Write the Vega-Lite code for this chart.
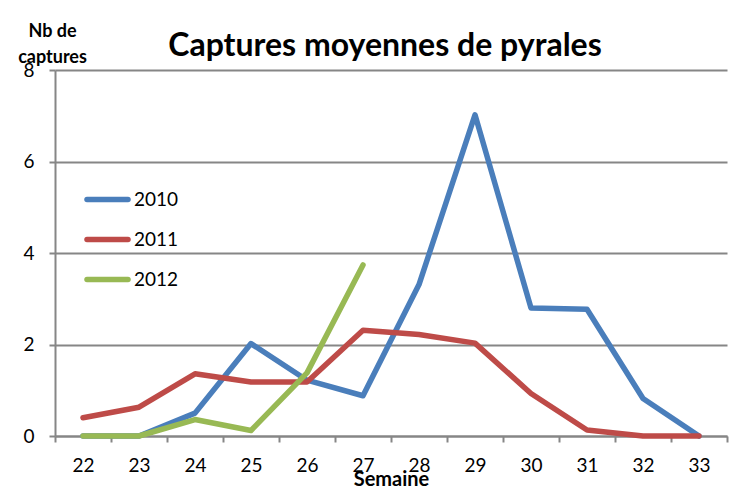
{
  "$schema": "https://vega.github.io/schema/vega-lite/v6.json",
  "width": 672,
  "height": 366,
  "autosize": {"type": "none"},
  "padding": {"left": 55, "top": 70, "right": 28, "bottom": 52},
  "background": "white",
  "title": {
    "text": "Captures moyennes de pyrales",
    "font": "Lato",
    "fontSize": 32,
    "fontWeight": "bold",
    "color": "black",
    "anchor": "middle",
    "baseline": "alphabetic",
    "offset": -66,
    "dx": -6
  },
  "data": {
    "values": [
      {"semaine": 22, "annee": "2010", "captures": 0},
      {"semaine": 23, "annee": "2010", "captures": 0},
      {"semaine": 24, "annee": "2010", "captures": 0.5},
      {"semaine": 25, "annee": "2010", "captures": 2.02},
      {"semaine": 26, "annee": "2010", "captures": 1.22},
      {"semaine": 27, "annee": "2010", "captures": 0.88},
      {"semaine": 28, "annee": "2010", "captures": 3.31},
      {"semaine": 29, "annee": "2010", "captures": 7.02},
      {"semaine": 30, "annee": "2010", "captures": 2.8},
      {"semaine": 31, "annee": "2010", "captures": 2.77},
      {"semaine": 32, "annee": "2010", "captures": 0.82},
      {"semaine": 33, "annee": "2010", "captures": 0},
      {"semaine": 22, "annee": "2011", "captures": 0.4},
      {"semaine": 23, "annee": "2011", "captures": 0.63},
      {"semaine": 24, "annee": "2011", "captures": 1.36},
      {"semaine": 25, "annee": "2011", "captures": 1.18},
      {"semaine": 26, "annee": "2011", "captures": 1.18},
      {"semaine": 27, "annee": "2011", "captures": 2.31},
      {"semaine": 28, "annee": "2011", "captures": 2.22},
      {"semaine": 29, "annee": "2011", "captures": 2.03},
      {"semaine": 30, "annee": "2011", "captures": 0.93},
      {"semaine": 31, "annee": "2011", "captures": 0.13},
      {"semaine": 32, "annee": "2011", "captures": 0},
      {"semaine": 33, "annee": "2011", "captures": 0},
      {"semaine": 22, "annee": "2012", "captures": 0},
      {"semaine": 23, "annee": "2012", "captures": 0},
      {"semaine": 24, "annee": "2012", "captures": 0.36},
      {"semaine": 25, "annee": "2012", "captures": 0.12},
      {"semaine": 26, "annee": "2012", "captures": 1.38},
      {"semaine": 27, "annee": "2012", "captures": 3.74}
    ]
  },
  "mark": {"type": "line", "strokeWidth": 5.5, "strokeCap": "round", "strokeJoin": "round"},
  "encoding": {
    "x": {
      "field": "semaine",
      "type": "ordinal",
      "scale": {"type": "band", "paddingInner": 0, "paddingOuter": 0},
      "axis": {
        "title": "Semaine",
        "titleFont": "Lato",
        "titleFontSize": 20,
        "titleFontWeight": "bold",
        "titleColor": "black",
        "titleBaseline": "alphabetic",
        "titleY": 49,
        "labelAngle": 0,
        "labelFont": "Lato",
        "labelFontSize": 19,
        "labelColor": "black",
        "labelPadding": 14,
        "tickBand": "extent",
        "tickSize": 6,
        "tickWidth": 2,
        "tickColor": "#868686",
        "domainColor": "#868686",
        "domainWidth": 2,
        "grid": false
      }
    },
    "y": {
      "field": "captures",
      "type": "quantitative",
      "scale": {"domain": [0, 8], "nice": false, "zero": true},
      "axis": {
        "title": ["Nb de", "captures"],
        "titleFont": "Lato",
        "titleFontSize": 18,
        "titleFontWeight": "bold",
        "titleColor": "black",
        "titleAngle": 0,
        "titleAlign": "center",
        "titleBaseline": "alphabetic",
        "titleLineHeight": 26,
        "titleX": -3,
        "titleY": -34,
        "values": [0, 2, 4, 6, 8],
        "labelFont": "Lato",
        "labelFontSize": 19,
        "labelColor": "black",
        "labelPadding": 15,
        "tickSize": 6,
        "tickWidth": 2,
        "tickColor": "#868686",
        "domainColor": "#868686",
        "domainWidth": 2,
        "grid": true,
        "gridColor": "#868686",
        "gridWidth": 2,
        "gridOpacity": 1
      }
    },
    "color": {
      "field": "annee",
      "type": "nominal",
      "scale": {"domain": ["2010", "2011", "2012"], "range": ["#4A7EBB", "#BE4B48", "#98B954"]},
      "legend": {
        "title": null,
        "orient": "none",
        "legendX": 29,
        "legendY": 106,
        "symbolType": "M-1,0L1,0",
        "symbolSize": 1681,
        "symbolStrokeWidth": 5.5,
        "labelFont": "Lato",
        "labelFontSize": 19,
        "labelColor": "black",
        "labelOffset": 3,
        "rowPadding": 5,
        "encode": {"symbols": {"update": {"strokeCap": {"value": "round"}}}}
      }
    }
  },
  "config": {"view": {"stroke": null}}
}
